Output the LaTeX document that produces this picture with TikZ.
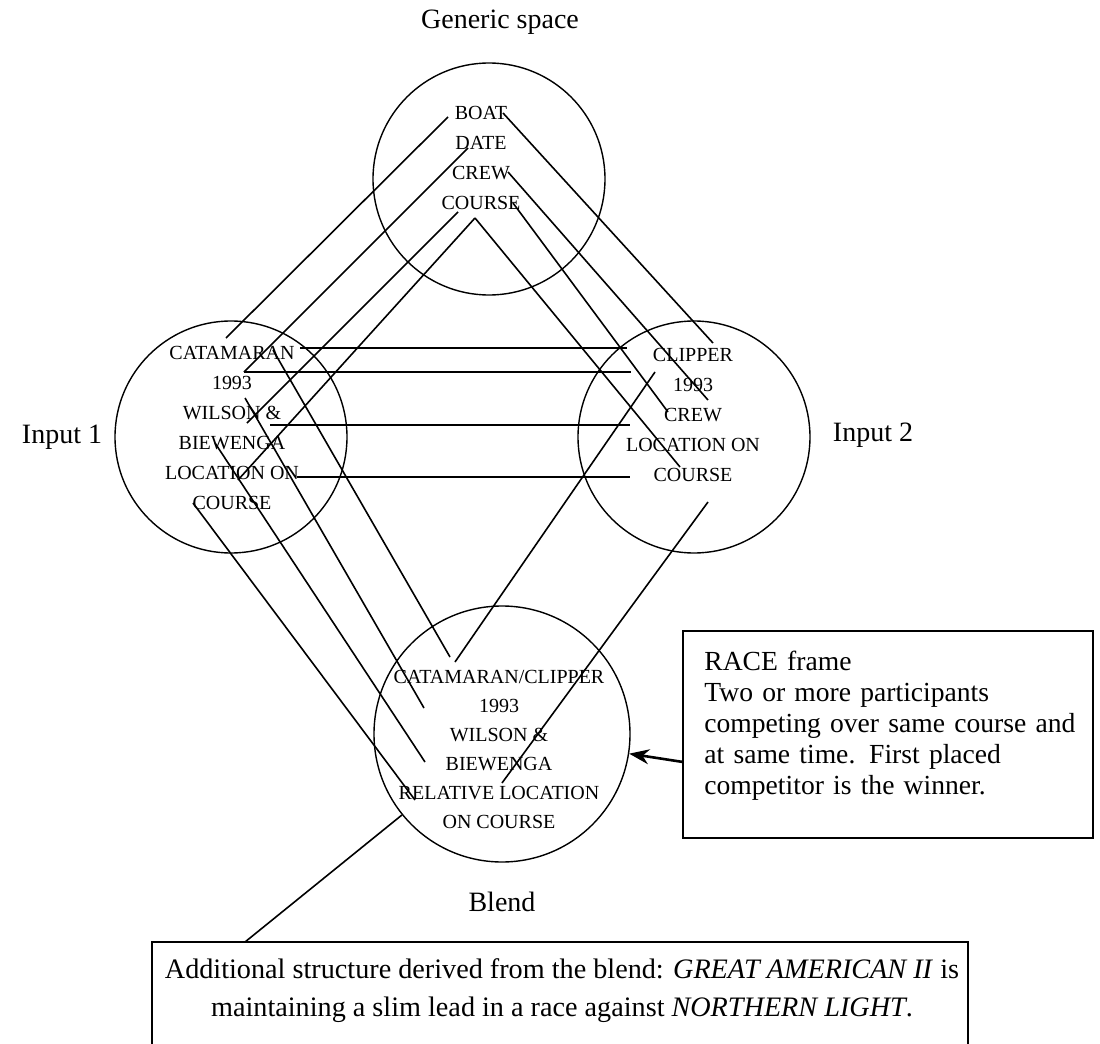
\documentclass[tikz,border=0pt]{standalone}
\usepackage{fontspec}
\setmainfont{Liberation Serif}
\usetikzlibrary{arrows.meta}
\begin{document}
\begin{tikzpicture}[x=0.5pt,y=-0.5pt,
  space/.style={draw, circle, line width=0.7pt, minimum size=116pt, inner sep=0pt},
  items/.style={align=center, inner sep=0pt, font=\fontsize{10}{15}\selectfont},
  title/.style={inner sep=0pt, font=\fontsize{14}{17}\selectfont},
  frame/.style={draw, line width=0.8pt, inner sep=0pt},
  note/.style={inner sep=0pt, font=\fontsize{13.8}{15.5}\selectfont},
  map/.style={line width=0.8pt},
]
\useasboundingbox (0,0) rectangle (1100,1044);
\fill[white] (0,0) rectangle (1100,1044);

% the four mental spaces
\node[space] (generic) at (489,179) {};
\node[space] (input1)  at (231,437) {};
\node[space] (input2)  at (694,437) {};
\node[space, minimum size=128pt] (blend) at (502,734) {};

% their titles
\node[title] (tgeneric) at (500,22)  {Generic space};
\node[title] (tinput1)  at (62,437)  {Input 1};
\node[title] (tinput2)  at (873,435) {Input 2};
\node[title] (tblend)   at (502,902) {Blend};

% contents of each space
\node[items] (igeneric) at (481,158) {BOAT\\DATE\\CREW\\COURSE};
\node[items] (iinput1)  at (232,428) {CATAMARAN\\1993\\WILSON \&\\BIEWENGA\\LOCATION ON\\COURSE};
\node[items] (iinput2)  at (693,415) {CLIPPER\\1993\\CREW\\LOCATION ON\\COURSE};
\node[items, font=\fontsize{10}{14.5}\selectfont] (iblend) at (499,749)
  {CATAMARAN/CLIPPER\\1993\\WILSON \&\\BIEWENGA\\RELATIVE LOCATION\\ON COURSE};

% frame box and its text
\node[frame, minimum width=205pt, minimum height=103.5pt] (race) at (888,734.5) {};
\node[note, anchor=north west, align=left, text width=192pt] (racetext) at (704,651)
  {RACE frame\\Two or more participants\\competing over same course and\\at same time. First placed\\competitor is the winner.};

% emergent structure box (runs off the lower edge)
\node[frame, minimum width=408pt, minimum height=60pt] (extra) at (560,1002) {};
\node[note, align=center, font=\fontsize{14.1}{19}\selectfont] (extratext) at (562,991)
  {Additional structure derived from the blend: \textit{GREAT AMERICAN II} is\\
   maintaining a slim lead in a race against \textit{NORTHERN LIGHT}.};

% end points of the mappings
\coordinate (g1a) at (448,117); \coordinate (g1b) at (226,338);
\coordinate (g2a) at (468,148); \coordinate (g2b) at (244,372);
\coordinate (g3a) at (458,212); \coordinate (g3b) at (247,423);
\coordinate (g4a) at (475,218); \coordinate (g4b) at (238,480);

\coordinate (r1a) at (503,113); \coordinate (r1b) at (713,343);
\coordinate (r2a) at (508,172); \coordinate (r2b) at (708,400);
\coordinate (r3a) at (513,203); \coordinate (r3b) at (668,412);
\coordinate (r4b) at (680,467);

\coordinate (h1a) at (300,348); \coordinate (h1b) at (627,348);
\coordinate (h2b) at (631,372);
\coordinate (h3a) at (270,425); \coordinate (h3b) at (630,425);
\coordinate (h4a) at (297,477); \coordinate (h4b) at (630,477);

\coordinate (b1a) at (273,350); \coordinate (b1b) at (450,657);
\coordinate (b2a) at (245,398); \coordinate (b2b) at (424,708);
\coordinate (b3a) at (215,443); \coordinate (b3b) at (425,762);
\coordinate (b4a) at (193,503); \coordinate (b4b) at (415,800);

\coordinate (m1a) at (655,372); \coordinate (m1b) at (455,662);
\coordinate (m2a) at (708,502); \coordinate (m2b) at (502,783);

\coordinate (extrafoot) at (245,942);
\coordinate (racetail) at (683,762);

% generic space to input 1
\draw[map] (g1a) -- (g1b);
\draw[map] (g2a) -- (g2b);
\draw[map] (g3a) -- (g3b);
\draw[map] (g4a) -- (g4b);
% generic space to input 2
\draw[map] (r1a) -- (r1b);
\draw[map] (r2a) -- (r2b);
\draw[map] (r3a) -- (r3b);
\draw[map] (g4a) -- (r4b);
% cross-space mapping
\draw[map] (h1a) -- (h1b);
\draw[map] (g2b) -- (h2b);
\draw[map] (h3a) -- (h3b);
\draw[map] (h4a) -- (h4b);
% projections into the blend
\draw[map] (b1a) -- (b1b);
\draw[map] (b2a) -- (b2b);
\draw[map] (b3a) -- (b3b);
\draw[map] (b4a) -- (b4b);
\draw[map] (m1a) -- (m1b);
\draw[map] (m2a) -- (m2b);

% blend to emergent structure, frame to blend
\draw[map] (extrafoot) -- (blend);
\draw[line width=1.3pt, -{Stealth[length=10pt, width=7.5pt]}] (racetail) -- (blend);
\end{tikzpicture}
\end{document}
